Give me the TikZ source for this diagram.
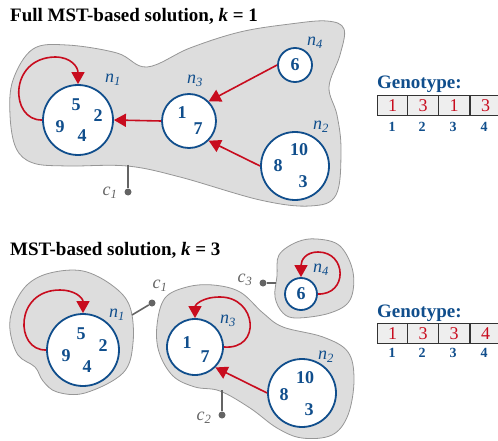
\documentclass[tikz,border=0pt]{standalone}
\usepackage{fontspec}
\setmainfont{Liberation Serif}
\usetikzlibrary{arrows.meta,calc}
\definecolor{nblue}{RGB}{16,78,140}
\definecolor{nred}{RGB}{200,12,30}
\definecolor{blobfill}{RGB}{221,221,221}
\definecolor{blobedge}{RGB}{150,150,150}
\definecolor{pingray}{RGB}{100,100,100}
\definecolor{cellfill}{RGB}{238,238,238}
\begin{document}
\begin{tikzpicture}[x=1pt,y=-1pt,
  blob/.style={fill=blobfill, draw=blobedge, line width=0.8pt},
  cl/.style={circle, draw=nblue, line width=1.8pt, fill=white, inner sep=0pt},
  num/.style={text=nblue, font=\fontsize{18}{18}\selectfont\bfseries, inner sep=0pt},
  nlab/.style={text=nblue, font=\fontsize{18}{18}\selectfont\itshape, inner sep=0pt},
  redarr/.style={draw=nred, line width=1.6pt, -{Triangle[length=12pt,width=13pt]}},
  pinline/.style={draw=pingray, line width=1.6pt},
  pindot/.style={circle, fill=pingray, inner sep=0pt, minimum size=7pt},
  clab/.style={text=pingray, font=\fontsize{18}{18}\selectfont\itshape, inner sep=0pt},
  ttl/.style={font=\fontsize{19}{19}\selectfont\bfseries, anchor=base west, inner sep=0pt},
  gtitle/.style={text=nblue, font=\fontsize{19}{19}\selectfont\bfseries, anchor=base west, inner sep=0pt},
  cell/.style={draw=black!80, fill=cellfill, line width=1pt, minimum width=31pt, minimum height=19.5pt, inner sep=0pt, text=nred, font=\fontsize{18}{18}\selectfont},
  idx/.style={text=nblue, font=\fontsize{14}{14}\selectfont\bfseries, inner sep=0pt}
]
\useasboundingbox (0,0) rectangle (498,441);

%% ---------------- top panel ----------------
\node[ttl] (t1) at (10,22) {Full MST-based solution, \textit{k} = 1};

\draw[blob] plot[smooth cycle, tension=0.6] coordinates {
 (13,80) (33,49) (67,45) (117,53) (147,67) (190,48) (240,32) (290,24) (327,21) (344,29)
 (340,55) (329,87) (337,115) (341,150) (336,195) (310,206) (260,200) (180,177)
 (127,166) (67,166) (33,163) (16,148) (10,115)};

\node[cl, minimum size=70pt] (A1) at (78,120) {};
\node[cl, minimum size=54pt] (A3) at (189,121) {};
\node[cl, minimum size=34pt] (A4) at (295,65) {};
\node[cl, minimum size=68pt] (A2) at (295,166) {};

\node[num] (a15) at (76,105) {5};
\node[num] (a12) at (98,116) {2};
\node[num] (a19) at (60,127) {9};
\node[num] (a14) at (82,136) {4};
\node[num] (a31) at (182,113) {1};
\node[num] (a37) at (198,129) {7};
\node[num] (a46) at (295,65) {6};
\node[num] (a210) at (299,150) {10};
\node[num] (a28) at (278,166) {8};
\node[num] (a23) at (303,182) {3};

\node[nlab] (la1) at (113,80) {n\textsubscript{1}};
\node[nlab] (la3) at (195,81) {n\textsubscript{3}};
\node[nlab] (la4) at (315,43) {n\textsubscript{4}};
\node[nlab] (la2) at (321,127) {n\textsubscript{2}};

\draw[redarr] (A3.west) -- (A1.east);
\draw[redarr] (A4.west) -- (A3.45);
\draw[redarr] (A2.west) -- (A3.-45);
\draw[redarr] (A1.west) .. controls (10,121) and (8,58) .. (55,57) .. controls (71,57) and (78,67) .. (A1.north);

\coordinate (pc1) at (128,165);
\node[pindot] (dc1) at (128,192) {};
\draw[pinline] (pc1) -- (dc1);
\node[clab] (lc1) at (110,193) {c\textsubscript{1}};

%% genotype top
\node[gtitle] (g1) at (377,89) {Genotype:};
\node[cell] (g1a) at (392.5,105.5) {1};
\node[cell] (g1b) at (423,105.5) {3};
\node[cell] (g1c) at (454,105.5) {1};
\node[cell] (g1d) at (485.5,105.5) {3};
\node[idx] (i1a) at (392,127) {1};
\node[idx] (i1b) at (422,127) {2};
\node[idx] (i1c) at (453,127) {3};
\node[idx] (i1d) at (484,127) {4};

%% ---------------- bottom panel ----------------
\node[ttl] (t2) at (10,255) {MST-based solution, \textit{k} = 3};

\draw[blob] plot[smooth cycle, tension=0.6] coordinates {
 (27,285) (50,273) (83,271) (113,286) (130,307) (133,343) (123,373) (85,393)
 (57,392) (43,381) (35,367) (18,355) (10,330) (13,308)};
\draw[blob] plot[smooth cycle, tension=0.6] coordinates {
 (165,298) (187,287) (213,285) (240,292) (263,313) (283,327) (323,337) (348,352)
 (354,380) (348,415) (332,435) (302,438) (277,428) (250,408) (220,391) (195,387)
 (173,376) (159,352) (157,325)};
\draw[blob] plot[smooth cycle, tension=0.6] coordinates {
 (277,276) (279,255) (297,242) (317,239) (340,246) (353,272) (350,300) (330,313)
 (297,318) (283,313) (275,297)};

\node[cl, minimum size=72pt] (B1) at (83,350) {};
\node[cl, minimum size=56pt] (B3) at (195,347) {};
\node[cl, minimum size=32pt] (B4) at (301,294) {};
\node[cl, minimum size=68pt] (B2) at (302,393) {};

\node[num] (b15) at (81,334) {5};
\node[num] (b12) at (103,346) {2};
\node[num] (b19) at (66,356) {9};
\node[num] (b14) at (87,367) {4};
\node[num] (b31) at (187,343) {1};
\node[num] (b37) at (205,357) {7};
\node[num] (b46) at (301,294) {6};
\node[num] (b210) at (305,378) {10};
\node[num] (b28) at (284,395) {8};
\node[num] (b23) at (309,410) {3};

\node[nlab] (lb1) at (117,315) {n\textsubscript{1}};
\node[nlab] (lb3) at (228,321) {n\textsubscript{3}};
\node[nlab] (lb4) at (321,270) {n\textsubscript{4}};
\node[nlab] (lb2) at (326,357) {n\textsubscript{2}};

\draw[redarr] (B2.west) -- (B3.-45);
\draw[redarr] (B1.west) .. controls (15,351) and (14,290) .. (60,290) .. controls (75,290) and (83,298) .. (B1.north);
\draw[redarr] (B3.east) .. controls (262,350) and (257,297) .. (220,297) .. controls (202,297) and (195,305) .. (B3.north);
\draw[redarr] (B4.east) .. controls (348,295) and (347,252) .. (318,252) .. controls (306,252) and (301,260) .. (B4.north);

\coordinate (pb1) at (132,315);
\node[pindot] (db1) at (152,303) {};
\draw[pinline] (pb1) -- (db1);
\node[clab] (lb1c) at (160,286) {c\textsubscript{1}};

\coordinate (pb2) at (222,390);
\node[pindot] (db2) at (222,415) {};
\draw[pinline] (pb2) -- (db2);
\node[clab] (lb2c) at (204,418) {c\textsubscript{2}};

\coordinate (pb3) at (276,283);
\node[pindot] (db3) at (263,283) {};
\draw[pinline] (pb3) -- (db3);
\node[clab] (lb3c) at (245,280) {c\textsubscript{3}};

%% genotype bottom
\node[gtitle] (g2) at (377,317) {Genotype:};
\node[cell] (g2a) at (392.5,333.5) {1};
\node[cell] (g2b) at (423,333.5) {3};
\node[cell] (g2c) at (454,333.5) {3};
\node[cell] (g2d) at (485.5,333.5) {4};
\node[idx] (i2a) at (392,353) {1};
\node[idx] (i2b) at (422,353) {2};
\node[idx] (i2c) at (453,353) {3};
\node[idx] (i2d) at (484,353) {4};
\end{tikzpicture}
\end{document}
